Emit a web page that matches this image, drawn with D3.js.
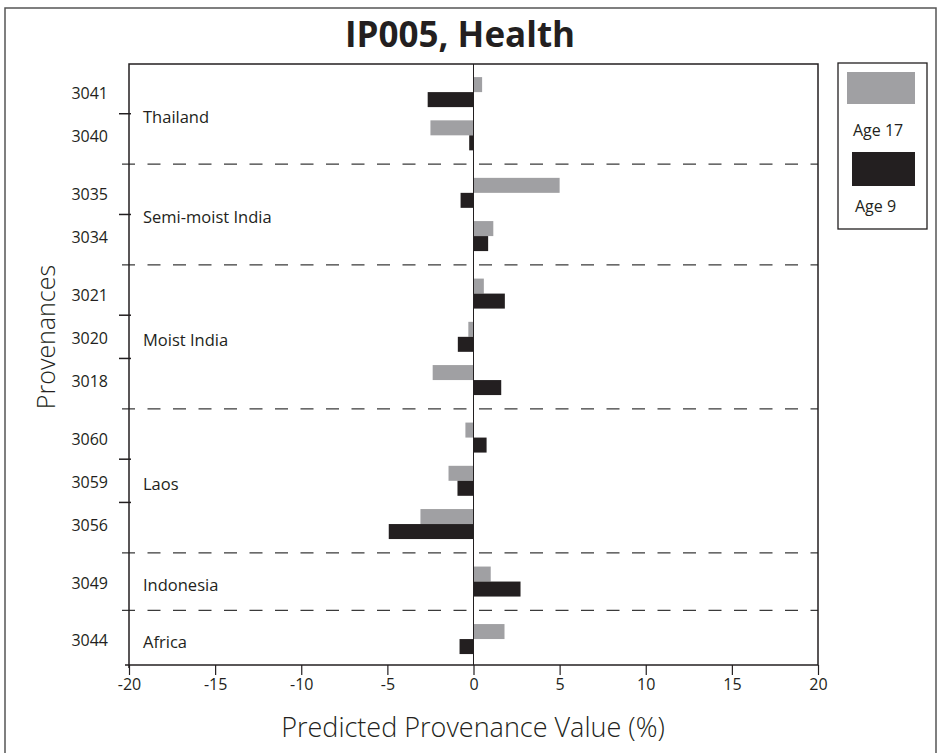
<!DOCTYPE html>
<html>
<head>
<meta charset="utf-8">
<script src="https://cdn.jsdelivr.net/npm/d3@7"></script>
<style>
  body { margin: 0; background: #fff; }
  text { font-family: "Open Sans", "Noto Sans", sans-serif; fill: #231f20; }
</style>
</head>
<body>
<svg id="chart" width="938" height="753"></svg>
<script>
// provenances top to bottom, with the region group each one belongs to
var provenances = ['3041', '3040', '3035', '3034', '3021', '3020', '3018', '3060', '3059', '3056', '3049', '3044'];
var groupOf = [0, 0, 1, 1, 2, 2, 2, 3, 3, 3, 4, 5];
var groups = ['Thailand', 'Semi-moist India', 'Moist India', 'Laos', 'Indonesia', 'Africa'];

// predicted provenance value (%)
var age17 = [0.5, -2.5, 5.0, 1.15, 0.6, -0.3, -2.37, -0.47, -1.45, -3.08, 1.0, 1.8];
var age9 = [-2.66, -0.25, -0.75, 0.85, 1.82, -0.91, 1.61, 0.76, -0.93, -4.92, 2.73, -0.81];

var seriesNames = ['Age 17', 'Age 9'];
var xTicks = [-20, -15, -10, -5, 0, 5, 10, 15, 20];

var colors = ['#a0a0a3', '#231f20'];
var ink = '#231f20';

var svg = d3.select('#chart');
var box = { left: 129, right: 818, top: 64, bottom: 665 };
var groupGap = 0.33;

var slot = function(i) { return i + groupOf[i] * groupGap; };
var lastSlot = slot(provenances.length - 1);

var x = d3.scaleLinear()
    .domain([-20, 20])
    .range([box.left, box.right]);

var y = d3.scaleLinear()
    .domain([-0.65, lastSlot + 0.6])
    .range([box.top, box.bottom]);

// outer frame
svg.append('rect')
    .attr('x', 5).attr('y', 8)
    .attr('width', 931).attr('height', 760)
    .attr('fill', 'none')
    .attr('stroke', '#555')
    .attr('stroke-width', 1.5);

// title
svg.append('text')
    .attr('x', 460).attr('y', 47)
    .attr('text-anchor', 'middle')
    .attr('font-size', 35)
    .attr('font-weight', 'bold')
    .text('IP005, Health');

// bars
var rows = provenances.map(function(p, i) {
    return { name: p, slot: slot(i), values: [age17[i], age9[i]] };
});
var barH = 15;

rows.forEach(function(r) {
    r.values.forEach(function(v, k) {
        svg.append('rect')
            .attr('x', x(Math.min(0, v)))
            .attr('y', k === 0 ? y(r.slot) - barH : y(r.slot))
            .attr('width', Math.abs(x(v) - x(0)))
            .attr('height', barH)
            .attr('fill', colors[k]);
    });
});

// zero line
svg.append('line')
    .attr('x1', x(0)).attr('x2', x(0))
    .attr('y1', box.top).attr('y2', box.bottom)
    .attr('stroke', ink)
    .attr('stroke-width', 1);

// dashed separators between region groups, short ticks inside a group
var separators = [];
var innerTicks = [];
for (var i = 0; i < provenances.length - 1; ++i) {
    var mid = (slot(i) + slot(i + 1)) / 2;
    if (groupOf[i] !== groupOf[i + 1]) separators.push(mid);
    else innerTicks.push(mid);
}

svg.selectAll('.sep')
    .data(separators)
    .enter().append('line')
    .attr('x1', box.left - 7).attr('x2', box.right)
    .attr('y1', function(d) { return y(d); })
    .attr('y2', function(d) { return y(d); })
    .attr('stroke', '#3a3a3a')
    .attr('stroke-width', 1.3)
    .attr('stroke-dasharray', '13,12.5');

svg.selectAll('.itick')
    .data(innerTicks)
    .enter().append('line')
    .attr('x1', box.left - 10).attr('x2', box.left + 2)
    .attr('y1', function(d) { return y(d); })
    .attr('y2', function(d) { return y(d); })
    .attr('stroke', ink)
    .attr('stroke-width', 1.5);

// plot box
svg.append('path')
    .attr('d', 'M' + box.left + ',' + (box.bottom + 3) + 'V' + box.top + 'H' + box.right + 'V' + box.bottom)
    .attr('fill', 'none')
    .attr('stroke', ink)
    .attr('stroke-width', 1.5);

// x axis
var xAxis = svg.append('g')
    .attr('transform', 'translate(0,' + box.bottom + ')')
    .call(d3.axisBottom(x)
        .tickValues(xTicks)
        .tickSize(10)
        .tickPadding(4)
        .tickFormat(function(d) { return String(d); }));
xAxis.select('.domain')
    .attr('d', 'M' + (box.left - 4) + ',0H' + box.right)
    .attr('stroke', ink)
    .attr('stroke-width', 1.5);
xAxis.selectAll('.tick line').attr('stroke', ink).attr('stroke-width', 1.2);
xAxis.selectAll('.tick text')
    .attr('font-size', 16)
    .attr('font-family', '"Open Sans", sans-serif')
    .attr('fill', ink);

// provenance labels
svg.selectAll('.plabel')
    .data(rows)
    .enter().append('text')
    .attr('x', 108)
    .attr('y', function(d) { return y(d.slot) + 7; })
    .attr('text-anchor', 'end')
    .attr('font-size', 16)
    .text(function(d) { return d.name; });

// group labels
var groupCenters = groups.map(function(g, gi) {
    var s = rows.filter(function(r, i) { return groupOf[i] === gi; });
    return { name: g, slot: d3.mean(s, function(r) { return r.slot; }) };
});
svg.selectAll('.glabel')
    .data(groupCenters)
    .enter().append('text')
    .attr('x', 143)
    .attr('y', function(d) { return y(d.slot) + 9; })
    .attr('font-size', 16.5)
    .text(function(d) { return d.name; });

// axis titles
svg.append('text')
    .attr('x', 473).attr('y', 737)
    .attr('text-anchor', 'middle')
    .attr('font-size', 27)
    .attr('font-weight', 300)
    .text('Predicted Provenance Value (%)');

svg.append('text')
    .attr('transform', 'translate(55,337) rotate(-90)')
    .attr('text-anchor', 'middle')
    .attr('font-size', 25)
    .attr('font-weight', 300)
    .text('Provenances');

// legend
var legend = svg.append('g');
legend.append('rect')
    .attr('x', 838).attr('y', 63)
    .attr('width', 89).attr('height', 166)
    .attr('fill', 'none')
    .attr('stroke', ink)
    .attr('stroke-width', 1.3);
var swatches = [{ x: 847, y: 72, w: 68, h: 32, tx: 853, ty: 136 },
                { x: 852, y: 152, w: 63, h: 34, tx: 855, ty: 212 }];
seriesNames.forEach(function(name, k) {
    var s = swatches[k];
    legend.append('rect')
        .attr('x', s.x).attr('y', s.y)
        .attr('width', s.w).attr('height', s.h)
        .attr('fill', colors[k]);
    legend.append('text')
        .attr('x', s.tx).attr('y', s.ty)
        .attr('font-size', 16)
        .text(name);
});
</script>
</body>
</html>
